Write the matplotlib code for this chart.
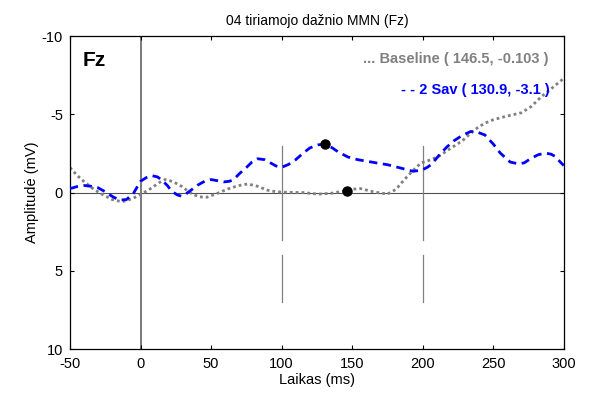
import matplotlib
matplotlib.use("Agg")
import matplotlib.pyplot as plt

plt.rcParams['font.family'] = ['Liberation Sans', 'DejaVu Sans']
plt.rcParams['axes.unicode_minus'] = False

title = "04 tiriamojo dažnio MMN (Fz)"
xlabel = "Laikas (ms)"
ylabel = "Amplitudė (mV)"
channel = "Fz"

xticks = [-50, 0, 50, 100, 150, 200, 250, 300]
yticks = [-10, -5, 0, 5, 10]

sav_x = [-50, -45, -40, -35, -30, -25, -20, -15, -10, -5, 0, 4, 8, 12, 15, 19, 22, 26, 29,
         32, 35, 41, 46, 50, 55, 59, 63, 66, 70, 75, 79, 83, 88, 92, 96, 100, 105, 110, 115,
         120, 126, 131, 136, 140, 147, 154, 161, 168, 175, 185, 193, 199, 203, 206, 212,
         217, 222, 228, 234, 239, 244, 250, 255, 262, 268, 272, 277, 282, 287, 291, 294,
         297, 300]
sav_y = [-0.25, -0.38, -0.45, -0.4, -0.3, -0.05, 0.25, 0.48, 0.45, 0.05, -0.72, -0.95, -1.08,
         -1.0, -0.8, -0.45, -0.1, 0.15, 0.23, 0.1, -0.1, -0.5, -0.75, -0.83, -0.75, -0.68,
         -0.72, -0.83, -1.2, -1.6, -1.95, -2.16, -2.1, -1.9, -1.7, -1.61, -1.8, -2.1, -2.5,
         -2.85, -3.05, -3.1, -2.85, -2.6, -2.27, -2.1, -1.99, -1.88, -1.78, -1.55, -1.36,
         -1.42, -1.6, -1.78, -2.43, -2.9, -3.3, -3.65, -3.9, -3.85, -3.68, -3.1, -2.52,
         -1.95, -1.83, -1.9, -2.2, -2.42, -2.52, -2.45, -2.3, -2.0, -1.72]

base_x = [-50, -45, -39, -33, -27, -20, -13, -6, 0, 4, 8, 13, 17.5, 23, 29, 35, 41, 47, 54,
          59, 64, 70, 76, 83, 90, 96, 102, 115, 126, 135, 141, 146.5, 151, 156, 165, 175,
          181, 187, 193, 199, 206, 212, 220, 228, 234, 239, 244, 250, 256, 263, 270, 277,
          284, 292, 300]
base_y = [-1.6, -1.1, -0.62, -0.2, 0.13, 0.45, 0.59, 0.4, 0.13, -0.08, -0.3, -0.62, -0.83,
          -0.7, -0.4, 0.0, 0.27, 0.3, 0.07, -0.12, -0.3, -0.45, -0.55, -0.4, -0.15, -0.05,
          -0.02, 0.0, 0.1, 0.05, -0.05, -0.15, -0.22, -0.25, -0.05, 0.1, -0.2, -0.83, -1.4,
          -1.9, -2.1, -2.35, -2.84, -3.3, -3.79, -4.15, -4.43, -4.65, -4.8, -4.95, -5.1,
          -5.5, -6.12, -6.7, -7.3]

peak_base = (146.5, -0.103)
peak_sav = (130.9, -3.1)
label_base = "... Baseline ( 146.5, -0.103 )"
label_sav = "- - 2 Sav ( 130.9, -3.1 )"

fig = plt.figure(figsize=(5.91, 3.94), dpi=100)
ax = fig.add_axes([0.1184, 0.114, 0.8356, 0.7946])

ax.axhline(0, color='#505050', lw=0.8, zorder=1)
ax.axvline(0, color='#707070', lw=1.3, zorder=1)
for xv in [100, 200]:
    ax.plot([xv, xv], [-3, 3], color='#808080', lw=0.9, zorder=1)
    ax.plot([xv, xv], [4, 7], color='#808080', lw=0.9, zorder=1)

ax.plot(base_x, base_y, color='#808080', lw=2.0, linestyle=(0, (1, 1.1)), zorder=2)
ax.plot(sav_x, sav_y, color='#0000ff', lw=2.0, linestyle=(0, (3, 2)), zorder=3)
ax.plot([peak_base[0]], [peak_base[1]], 'o', color='black', ms=6.5, zorder=4)
ax.plot([peak_sav[0]], [peak_sav[1]], 'o', color='black', ms=6.5, zorder=4)

ax.set_xlim(-50, 300)
ax.set_ylim(10, -10)
ax.set_xticks(xticks)
ax.set_yticks(yticks)
ax.tick_params(direction='in', top=True, right=True, length=3, labelsize=10.5, width=0.8)
ax.tick_params(axis='x', pad=6)
ax.tick_params(axis='y', pad=5)
for s in ax.spines.values():
    s.set_linewidth(0.9)

ax.set_title(title, fontsize=10, pad=8)
ax.set_xlabel(xlabel, fontsize=10.5, labelpad=1)
ax.set_ylabel(ylabel, fontsize=10.5, labelpad=2)

ax.text(-41, -8.45, channel, fontsize=15, fontweight='bold', va='center', ha='left')
ax.text(289.5, -8.5, label_base, fontsize=10.5, fontweight='bold', color='#808080',
        va='center', ha='right')
ax.text(290, -6.55, label_sav, fontsize=10.5, fontweight='bold', color='#0000ff',
        va='center', ha='right')

fig.savefig("out.png", dpi=100)
